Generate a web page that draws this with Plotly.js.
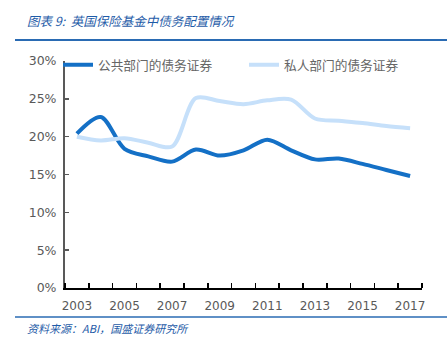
<!DOCTYPE html>
<html><head><meta charset="utf-8">
<script src="https://cdn.plot.ly/plotly-3.0.1.min.js"></script>
<style>html,body{margin:0;padding:0;background:#fff}#c{width:447px;height:343px}</style>
</head><body><div id="c"></div>
<script>
const years = [2003,2004,2005,2006,2007,2008,2009,2010,2011,2012,2013,2014,2015,2016,2017];
const publicSector = [20.4,22.6,18.4,17.4,16.7,18.3,17.5,18.2,19.6,18.2,17.0,17.1,16.4,15.6,14.8];
const privateSector = [20.0,19.5,19.8,19.2,18.7,25.1,24.7,24.3,24.8,24.9,22.4,22.1,21.8,21.4,21.1];
const seriesNames = ['公共部门的债务证券','私人部门的债务证券'];
const yTicks = [0,5,10,15,20,25,30];
const xLabelYears = years.map(y => (y % 2 === 1) ? String(y) : '');

const W=447,H=343,L=65,R=25,T=61,B=55;
const pw=W-L-R, ph=H-T-B;
const px = x => (x-L)/pw;
const py = y => (H-B-y)/ph;

const data = [
  {x: years, y: publicSector, name: seriesNames[0], type:'scatter', mode:'lines', legend:'legend',
   line:{color:'#1470C6', width:4, shape:'spline', smoothing:0.9}},
  {x: years, y: privateSector, name: seriesNames[1], type:'scatter', mode:'lines', legend:'legend2',
   line:{color:'#C6E0FA', width:4, shape:'spline', smoothing:0.9}}
];
const legFont = {family:'Noto Sans CJK SC', size:12.7, color:'#666666'};
const layout = {
  width:W, height:H,
  margin:{l:L,r:R,t:T,b:B},
  paper_bgcolor:'#fff', plot_bgcolor:'#fff',
  showlegend:true,
  font:{family:'DejaVu Sans, sans-serif', color:'#595959', size:12},
  title:{text:'图表 9:  英国保险基金中债务配置情况', xref:'container', yref:'container',
    x:27/W, xanchor:'left', y:1-22/H, yanchor:'middle',
    font:{family:'Noto Sans CJK SC', size:12.5, color:'#1F5CA8', style:'italic'}},
  xaxis:{range:[2002.5,2017.5], tickmode:'array', tickvals:years, ticktext:xLabelYears,
    ticks:'', showgrid:false, zeroline:false, showline:true, linecolor:'#000', linewidth:1.5,
    tickfont:{size:12, color:'#595959'}, ticklabelstandoff:6,
    minor:{tickmode:'linear', tick0:2002.5, dtick:1, ticks:'inside', ticklen:5, tickcolor:'#000', tickwidth:1.5, showgrid:false}},
  yaxis:{range:[0,30], tickmode:'array', tickvals:yTicks, ticktext:yTicks.map(v=>v+'%'),
    ticks:'inside', ticklen:4, tickcolor:'#595959', tickwidth:1.5,
    showgrid:false, zeroline:false, showline:true, linecolor:'#595959', linewidth:2,
    tickfont:{size:12.5, color:'#595959'}, ticklabelstandoff:4},
  legend:{orientation:'h', x:px(58), xanchor:'left', y:py(50), yanchor:'top',
    bgcolor:'rgba(0,0,0,0)', font:legFont, itemwidth:30},
  legend2:{orientation:'h', x:px(244), xanchor:'left', y:py(50), yanchor:'top',
    bgcolor:'rgba(0,0,0,0)', font:legFont, itemwidth:30},
  shapes:[
    {type:'line', xref:'paper', yref:'paper', x0:px(15), x1:px(447), y0:py(40), y1:py(40), line:{color:'#2A6BB3', width:2}},
    {type:'line', xref:'paper', yref:'paper', x0:px(15), x1:px(447), y0:py(317), y1:py(317), line:{color:'#2A6BB3', width:1.5}}
  ],
  annotations:[
    {text:'资料来源：ABI，国盛证券研究所', xref:'paper', yref:'paper', x:px(25), y:py(328), xanchor:'left', yanchor:'middle',
     showarrow:false, font:{family:'Noto Sans CJK SC', size:11, color:'#1F5CA8', style:'italic'}}
  ]
};
Plotly.newPlot('c', data, layout, {displayModeBar:false, staticPlot:true});
</script></body></html>
